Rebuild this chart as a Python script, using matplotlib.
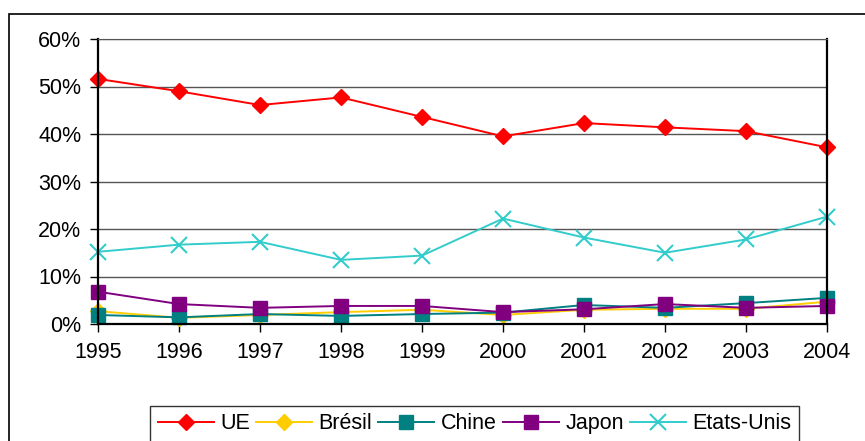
import numpy as np
import matplotlib.pyplot as plt
from matplotlib.patches import Rectangle
from matplotlib.ticker import PercentFormatter

plt.rcParams['font.family'] = ['Liberation Sans', 'DejaVu Sans']

years = [1995, 1996, 1997, 1998, 1999, 2000, 2001, 2002, 2003, 2004]
ue = [51.6, 49.0, 46.1, 47.7, 43.6, 39.5, 42.3, 41.4, 40.6, 37.2]
bresil = [2.7, 1.3, 1.9, 2.5, 3.0, 1.9, 3.0, 3.2, 3.2, 4.7]
chine = [1.9, 1.4, 2.1, 1.7, 2.1, 2.4, 4.0, 3.4, 4.4, 5.5]
japon = [6.8, 4.2, 3.4, 3.8, 3.8, 2.5, 3.1, 4.2, 3.4, 3.8]
etats_unis = [15.2, 16.7, 17.3, 13.5, 14.4, 22.2, 18.2, 15.0, 17.8, 22.6]

W, H = 865, 441
fig = plt.figure(figsize=(W / 100, H / 100), dpi=100)
ax = fig.add_axes([98 / W, 1 - 324 / H, (827 - 98) / W, (324 - 39) / H])

# outer chart border (cropped at right and bottom)
fig.patches.append(Rectangle((9 / W, -0.1), 1.2, 1 - 14 / H + 0.1,
                             transform=fig.transFigure, fill=False,
                             edgecolor='black', linewidth=1.2))

ax.plot(years, ue, color='#FF0000', marker='D', markersize=8.5, lw=1.4, label='UE')
ax.plot(years, bresil, color='#FFCC00', marker='D', markersize=8.5, lw=1.4, label='Brésil')
ax.plot(years, chine, color='#008080', marker='s', markersize=9.5, lw=1.4, label='Chine')
ax.plot(years, japon, color='#800080', marker='s', markersize=9.5, lw=1.4, label='Japon')
ax.plot(years, etats_unis, color='#33CCCC', marker='x', markersize=11, mew=1.5, lw=1.4,
        label='Etats-Unis')

ax.set_xlim(1995, 2004)
ax.set_ylim(0, 60)
ax.set_xticks(years)
ax.set_yticks(np.arange(0, 61, 10))
ax.yaxis.set_major_formatter(PercentFormatter(decimals=0))
ax.grid(axis='y', color='#555555', linewidth=1)
ax.set_axisbelow(True)
ax.tick_params(labelsize=15.5, length=6, width=1, direction='out')
ax.tick_params(axis='x', pad=7)
ax.tick_params(axis='y', pad=6)
for s in ['left', 'bottom', 'right']:
    ax.spines[s].set_linewidth(1.6)
    ax.spines[s].set_color('black')
ax.spines['top'].set_color('#555555')

for line in ax.lines:
    line.set_clip_on(False)

leg = fig.legend(loc='upper left', ncol=5, mode='expand',
                 bbox_to_anchor=(150 / W, 1 - 406 / H, (799 - 150) / W, 0.0001),
                 fontsize=15.5, frameon=True, fancybox=False, handlelength=2.6,
                 handletextpad=0.3, columnspacing=0.5, borderaxespad=0,
                 borderpad=0.35)
leg.get_frame().set_edgecolor('black')
leg.get_frame().set_linewidth(1)

fig.savefig('out.png', dpi=100)
